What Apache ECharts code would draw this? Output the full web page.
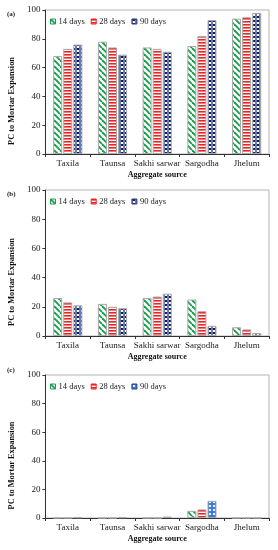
<!DOCTYPE html>
<html><head><meta charset="utf-8">
<script src="https://cdn.jsdelivr.net/npm/echarts@6/dist/echarts.min.js"></script>
<style>html,body{margin:0;padding:0;background:#fff}#c{width:278px;height:550px}</style>
</head><body><div id="c"></div>
<script>
const categories = ['Taxila', 'Taunsa', 'Sakhi sarwar', 'Sargodha', 'Jhelum'];
const seriesNames = ['14 days', '28 days', '90 days'];
const yTicks = [0, 20, 40, 60, 80, 100];
const panelLabels = ['(a)', '(b)', '(c)'];
// panel (a)
const a14 = [68, 78, 74, 75, 94];
const a28 = [73, 74, 73, 82, 95];
const a90 = [76, 69, 71, 93, 98];
// panel (b)
const b14 = [26, 22, 26, 25, 6];
const b28 = [23, 20, 27, 17, 4.5];
const b90 = [21, 19, 29, 7, 2];
// panel (c)
const c14 = [0, 0, 0, 5, 0];
const c28 = [0, 0, 0, 6, 0];
const c90 = [0.5, 0.5, 1, 12, 0];

function mk(w, h, draw) {
  const cv = document.createElement('canvas'); cv.width = w; cv.height = h;
  const g = cv.getContext('2d'); draw(g); return cv;
}
const greenPat = mk(6, 6, g => {
  g.fillStyle = '#fff'; g.fillRect(0, 0, 6, 6);
  g.strokeStyle = '#17a04a'; g.lineWidth = 1.9;
  for (let k = -6; k <= 6; k += 6) { g.beginPath(); g.moveTo(k, 0); g.lineTo(k + 6, 6); g.stroke(); }
});
const redPat = mk(4, 3, g => {
  g.fillStyle = '#fff'; g.fillRect(0, 0, 4, 3);
  g.fillStyle = '#ee2222'; g.fillRect(0, 0, 4, 1.6);
});
const navyPat = mk(4, 4, g => {
  g.fillStyle = '#6a7ab0'; g.fillRect(0, 0, 4, 4);
  g.fillStyle = '#101c5a'; g.fillRect(1, 0, 2, 2);
  g.fillStyle = '#ffffff'; g.fillRect(1, 2, 2, 2);
});
const bluePat = mk(4, 4, g => {
  g.fillStyle = '#3a7fd4'; g.fillRect(0, 0, 4, 4);
  g.fillStyle = '#e8f0ff'; g.fillRect(1, 1, 2, 2);
});
const pats = [
  [greenPat, redPat, navyPat],
  [greenPat, redPat, navyPat],
  [greenPat, redPat, bluePat]
];
const data = [[a14, a28, a90], [b14, b28, b90], [c14, c28, c90]];
const grids = [{top: 10, height: 144}, {top: 190, height: 146}, {top: 375, height: 143}];
const font = '"Liberation Serif", "DejaVu Serif", serif';

const option = {
  animation: false,
  grid: grids.map(g => ({left: 38, right: 9, top: g.top, height: g.height, show: true, borderColor: '#b4b4b4', borderWidth: 1})),
  legend: grids.map((g, p) => ({
    left: 45, top: g.top + 2, itemWidth: 5, itemHeight: 5, itemGap: 6,
    textStyle: {fontFamily: font, fontSize: 8.5, color: '#222', padding: [0, 0, 0, -2]},
    data: seriesNames.map((n, i) => ({name: n, icon: 'rect', itemStyle: {color: {image: pats[p][i], repeat: 'repeat'}, borderColor: i === 0 ? '#17a04a' : (i === 1 ? '#ee2222' : '#2a3a80'), borderWidth: 1}}))
  })),
  xAxis: grids.map((g, p) => ({
    type: 'category', gridIndex: p, data: categories,
    name: 'Aggregate source', nameLocation: 'middle', nameGap: 17,
    nameTextStyle: {fontFamily: font, fontSize: 8, fontWeight: 'bold', color: '#111'},
    axisLine: {lineStyle: {color: '#333', width: 1}},
    axisTick: {show: true, length: 3, lineStyle: {color: '#333'}},
    axisLabel: {fontFamily: font, fontSize: 9, color: '#222', margin: 5, interval: 0}
  })),
  yAxis: grids.map((g, p) => ({
    type: 'value', gridIndex: p, min: yTicks[0], max: yTicks[yTicks.length - 1], interval: 20,
    name: 'PC to Mortar Expansion', nameLocation: 'middle', nameGap: 22,
    nameTextStyle: {fontFamily: font, fontSize: 8.3, fontWeight: 'bold', color: '#111', padding: [0, 38, 0, 0]},
    axisLine: {show: true, lineStyle: {color: '#333', width: 1}},
    axisTick: {show: true, length: 3, lineStyle: {color: '#333'}},
    splitLine: {show: false},
    axisLabel: {fontFamily: font, fontSize: 9, color: '#222', margin: 5}
  })),
  graphic: grids.map((g, p) => ({
    type: 'text', left: 7, top: g.top + (p === 2 ? -8 : 1),
    style: {text: panelLabels[p], font: 'bold 7px ' + font, fill: '#222'}
  })),
  series: []
};
for (let p = 0; p < 3; p++) {
  for (let i = 0; i < 3; i++) {
    option.series.push({
      type: 'bar', name: seriesNames[i], xAxisIndex: p, yAxisIndex: p,
      data: data[p][i], barWidth: 9, barGap: '12%',
      itemStyle: {color: {image: pats[p][i], repeat: 'repeat'}, borderColor: '#a8a8a8', borderWidth: 1}
    });
  }
}
const chart = echarts.init(document.getElementById('c'), null, {renderer: 'canvas'});
chart.setOption(option);
</script></body></html>
